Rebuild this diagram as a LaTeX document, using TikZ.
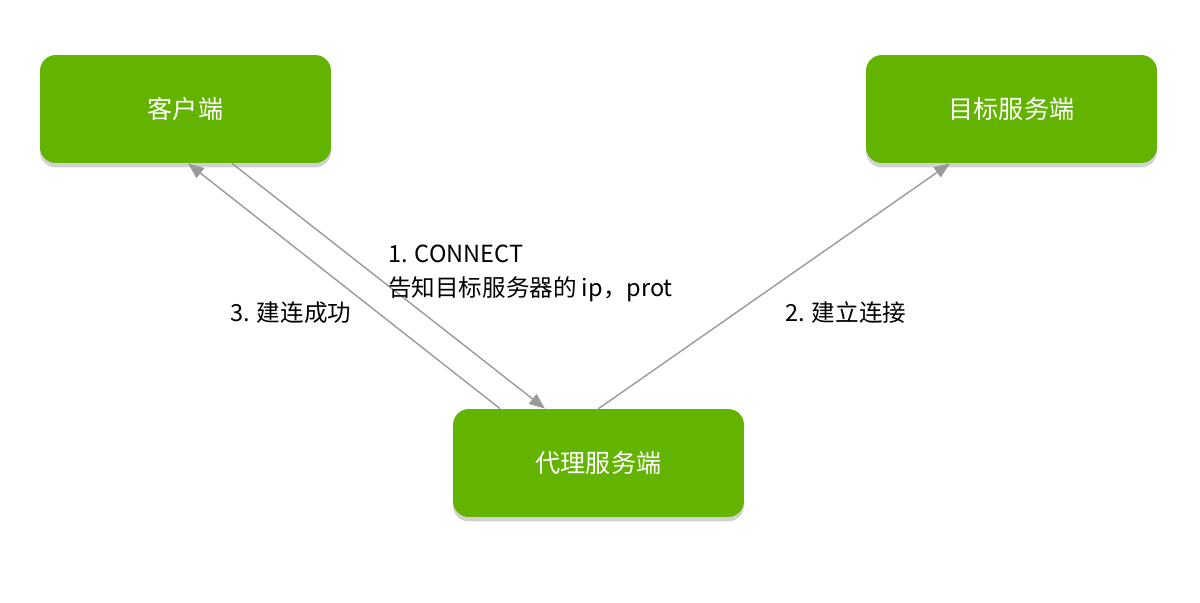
\documentclass[tikz,border=0pt]{standalone}
\usepackage{fontspec}
\setmainfont{Noto Sans CJK SC}
\usepackage{tikz}
\usetikzlibrary{
    arrows.meta,
    positioning,
    shadows
}

\definecolor{boxgreen}{HTML}{62B400}
\definecolor{linegray}{HTML}{9A9A9A}

\begin{document}
\begin{tikzpicture}[
        x=0.02cm, y=-0.02cm,
        server/.style={
            rectangle,
            rounded corners=9pt,
            fill=boxgreen,
            text=white,
            align=center,
            font=\fontsize{14.3pt}{17pt}\selectfont,
            minimum width=5.82cm,
            minimum height=2.16cm,
            drop shadow={shadow xshift=0pt, shadow yshift=-2.5pt,
                opacity=0.3, fill=black!60}
        },
        line/.style={
            -{Triangle[length=9pt,width=7pt]},
            draw=linegray,
            line width=0.8pt
        },
        lbl/.style={
            align=left,
            inner sep=0pt,
            font=\fontsize{13.4pt}{19.3pt}\selectfont
        }
    ]

    \useasboundingbox (0,0) rectangle (1200,602);

    \node[server] (client) at (185.5,109) {客户端};
    \node[server] (target) at (1011.5,109) {目标服务端};
    \node[server] (proxy) at (598.5,463) {代理服务端};

    % connections
    \draw[line] ([xshift=0.93cm]client.south) -- ([xshift=-1.07cm]proxy.north);
    \draw[line] ([xshift=-1.97cm]proxy.north) -- ([xshift=0.05cm]client.south);
    \draw[line] (proxy.north) -- ([xshift=-1.23cm]target.south);

    % labels
    \node[lbl, anchor=west] (connect) at (388,273)
        {1. CONNECT\\告知目标服务器的 ip，prot};
    \node[lbl, anchor=west] (done) at (230,313) {3. 建连成功};
    \node[lbl, anchor=west] (link) at (785,313) {2. 建立连接};

\end{tikzpicture}
\end{document}
